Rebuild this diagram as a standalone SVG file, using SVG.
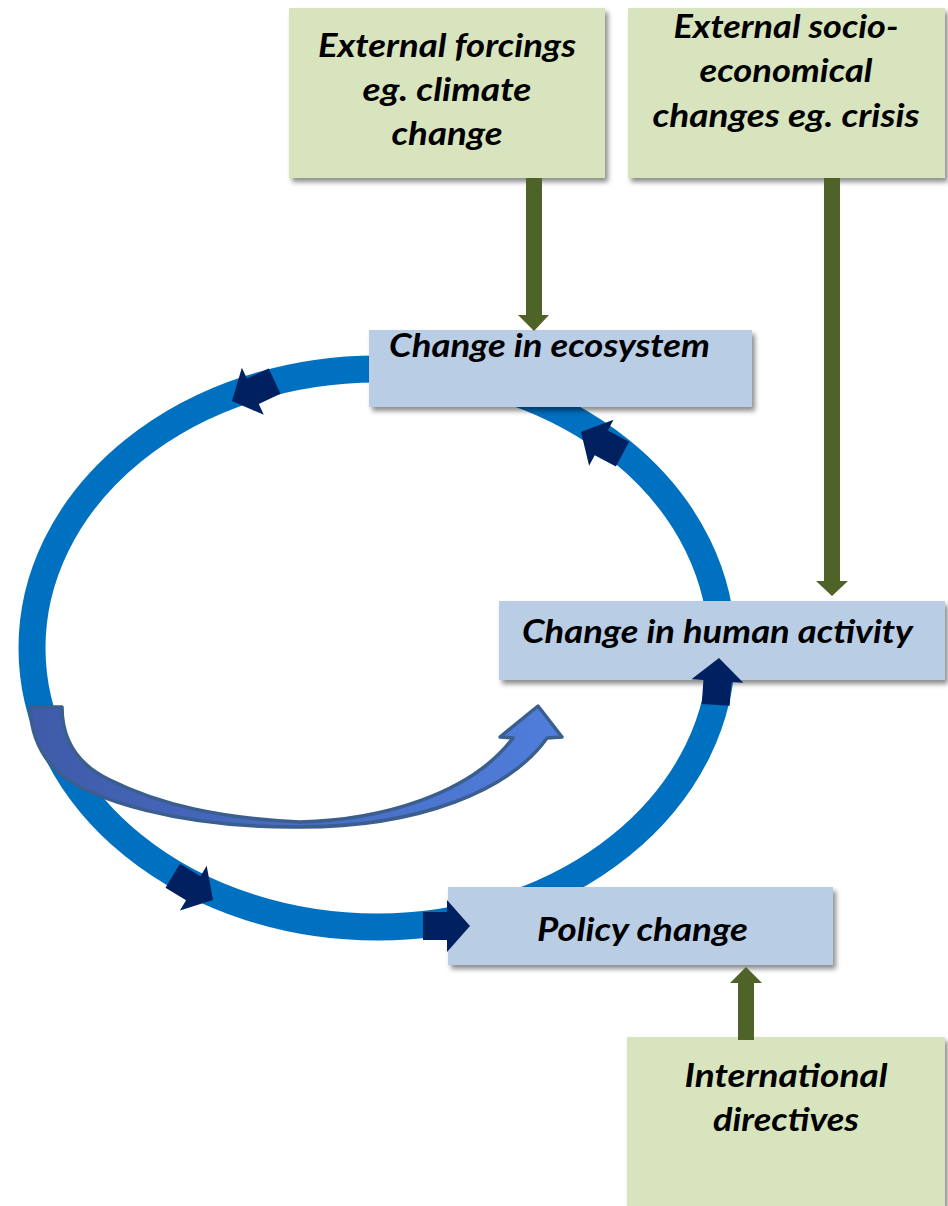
<svg xmlns="http://www.w3.org/2000/svg" width="948" height="1206" viewBox="0 0 948 1206">
<defs>
<style>
.lbl{font-family:Lato,"Open Sans","Liberation Sans",sans-serif;font-weight:700;font-style:italic;font-size:33px;fill:#000}
.blue{fill:#B9CDE5}
.green{fill:#D7E4BD}
.head{fill:#002060}
.garrow{fill:#4F6228}
</style>
<filter id="sh" x="-10%" y="-20%" width="125%" height="150%">
<feDropShadow dx="3" dy="4" stdDeviation="2.5" flood-color="#000" flood-opacity="0.45"/>
</filter>
<linearGradient id="cg" x1="30" y1="0" x2="562" y2="0" gradientUnits="userSpaceOnUse">
<stop offset="0" stop-color="#3F5BA9"/>
<stop offset="1" stop-color="#507EDC"/>
</linearGradient>
<polygon id="rh" points="-47,-14 -23,-14 -23,-26 0,0 -23,26 -23,14 -47,14"/>
</defs>
<rect width="948" height="1206" fill="#fff"/>

<g id="connectors">
<ellipse id="cycle-ring" cx="377" cy="648" rx="345" ry="279" fill="none" stroke="#0070C0" stroke-width="27"/>
<path id="curved-arrow" d="M30,707 L62,707 C62,740 78,765 110,780 C160,805 220,818 300,822 C380,820 470,795 513,738 L500,737 L538,706 L562,737 L547,738 C510,790 420,827 300,827 C180,828 90,800 58,772 C40,755 31,735 30,707 Z" fill="url(#cg)" stroke="#3A5E8E" stroke-width="3.5" stroke-linejoin="round"/>
</g>

<g id="node-forcings">
<rect class="green" x="289" y="8" width="316" height="170" filter="url(#sh)"/>
<text class="lbl" x="447" y="57" text-anchor="middle" textLength="258" lengthAdjust="spacingAndGlyphs">External forcings</text>
<text class="lbl" x="447" y="101" text-anchor="middle" textLength="169" lengthAdjust="spacingAndGlyphs">eg. climate</text>
<text class="lbl" x="447" y="145" text-anchor="middle" textLength="111" lengthAdjust="spacingAndGlyphs">change</text>
</g>
<g id="node-socio">
<rect class="green" x="628" y="8" width="317" height="170" filter="url(#sh)"/>
<text class="lbl" x="786" y="38" text-anchor="middle" textLength="225" lengthAdjust="spacingAndGlyphs">External socio-</text>
<text class="lbl" x="786" y="82" text-anchor="middle" textLength="173" lengthAdjust="spacingAndGlyphs">economical</text>
<text class="lbl" x="786" y="127" text-anchor="middle" textLength="267" lengthAdjust="spacingAndGlyphs">changes eg. crisis</text>
</g>
<g id="node-ecosystem">
<rect class="blue" x="369" y="330" width="383" height="77" filter="url(#sh)"/>
<text class="lbl" x="389" y="357" textLength="321" lengthAdjust="spacingAndGlyphs">Change in ecosystem</text>
</g>
<g id="node-human">
<rect class="blue" x="499" y="601" width="446" height="79" filter="url(#sh)"/>
<text class="lbl" x="522" y="643" textLength="391" lengthAdjust="spacingAndGlyphs">Change in human activity</text>
</g>
<g id="node-policy">
<rect class="blue" x="448" y="887" width="385" height="78" filter="url(#sh)"/>
<text class="lbl" x="537" y="941" textLength="211" lengthAdjust="spacingAndGlyphs">Policy change</text>
</g>
<g id="node-international">
<rect class="green" x="627" y="1037" width="318" height="169" filter="url(#sh)"/>
<text class="lbl" x="786" y="1087" text-anchor="middle" textLength="203" lengthAdjust="spacingAndGlyphs">International</text>
<text class="lbl" x="786" y="1131" text-anchor="middle" textLength="146" lengthAdjust="spacingAndGlyphs">directives</text>
</g>

<g id="connector-heads">
<use href="#rh" class="head" transform="translate(232,401) rotate(155)"/>
<use href="#rh" class="head" transform="translate(581,432) rotate(-152)"/>
<use href="#rh" class="head" transform="translate(719,658) rotate(-86)"/>
<use href="#rh" class="head" transform="translate(213,900) rotate(31)"/>
<use href="#rh" class="head" transform="translate(470,926) rotate(0)"/>
<polygon class="garrow" points="526,178 542,178 542,315 549,315 534,331 518,315 526,315"/>
<polygon class="garrow" points="824,178 840,178 840,581 848,581 832,596 816,581 824,581"/>
<polygon class="garrow" points="738,1040 754,1040 754,983 762,983 746,967 730,983 738,983"/>
</g>
</svg>
